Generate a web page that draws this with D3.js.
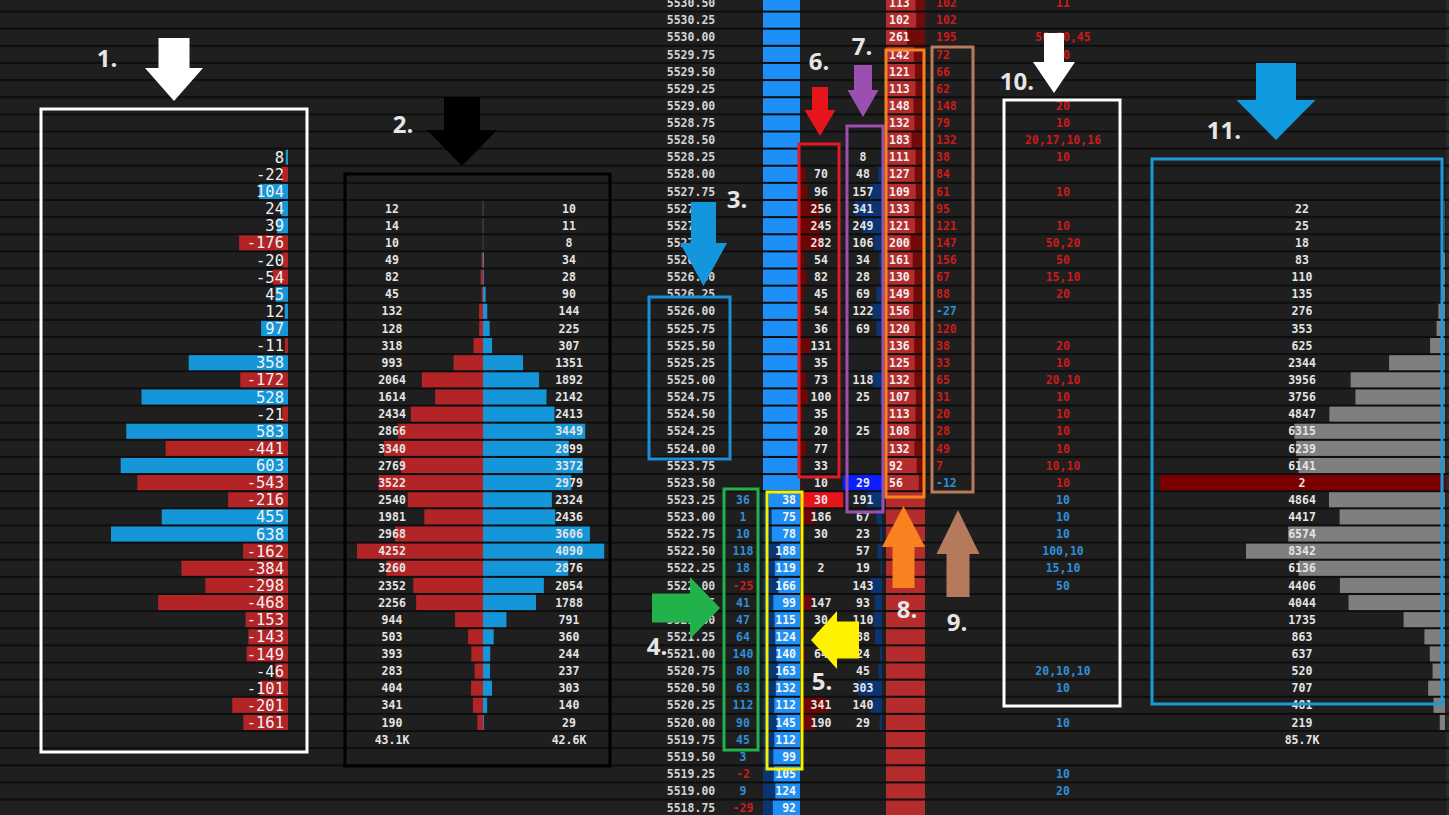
<!DOCTYPE html>
<meta charset="utf-8">
<style>
body { margin: 0; background: #1e1e1e; }
svg { display: block; }
.num { font-family: "DejaVu Sans Mono", monospace; font-size: 11.5px; font-weight: bold; }
.big { font-family: "DejaVu Sans Mono", monospace; font-size: 15.5px; }
.tag { font-family: "Open Sans", sans-serif; font-weight: bold; font-size: 24px; fill: #e6e6e6; }
</style>
<svg width="1449" height="815"></svg>
<script src="https://d3js.org/d3.v7.min.js"></script>
<script>

var svg = d3.select("svg"),
    width = +svg.attr("width"),
    height = +svg.attr("height");

// price ladder, top to bottom
var prices = ["5530.50","5530.25","5530.00","5529.75","5529.50","5529.25","5529.00","5528.75",
  "5528.50","5528.25","5528.00","5527.75","5527.50","5527.25","5527.00","5526.75","5526.50",
  "5526.25","5526.00","5525.75","5525.50","5525.25","5525.00","5524.75","5524.50","5524.25",
  "5524.00","5523.75","5523.50","5523.25","5523.00","5522.75","5522.50","5522.25","5522.00",
  "5521.75","5521.50","5521.25","5521.00","5520.75","5520.50","5520.25","5520.00","5519.75",
  "5519.50","5519.25","5519.00","5518.75"];

// 1. delta per price (from 5528.25 down)
var deltaStart = "5528.25";
var delta = [8,-22,104,24,39,-176,-20,-54,45,12,97,-11,358,-172,528,-21,583,-441,603,-543,
  -216,455,638,-162,-384,-298,-468,-153,-143,-149,-46,-101,-201,-161];

// 2. sell / buy volume profile (from 5527.50 down)
var volStart = "5527.50";
var sellVol = [12,14,10,49,82,45,132,128,318,993,2064,1614,2434,2866,3340,2769,3522,2540,1981,
  2968,4252,3260,2352,2256,944,503,393,283,404,341,190];
var buyVol = [10,11,8,34,28,90,144,225,307,1351,1892,2142,2413,3449,2899,3372,2979,2324,2436,
  3606,4090,2876,2054,1788,791,360,244,237,303,140,29];
var volTotals = ["43.1K", "42.6K"];

// 4. bid change, 5. bids (from 5523.25 down)
var bidStart = "5523.25";
var bidChange = [36,1,10,118,18,-25,41,47,64,140,80,63,112,90,45,3,-2,9,-29];
var bids = [38,75,78,188,119,166,99,115,124,140,163,132,112,145,112,99,105,124,92];

// 6. sells at bid (from 5528.00 down)
var sellStart = "5528.00";
var sellsAtBid = [70,96,256,245,282,54,82,45,54,36,131,35,73,100,35,20,77,33,10,30,186,30,
  null,2,null,147,30,45,64,null,null,341,190];

// 7. buys at ask (from 5528.25 down)
var buyStart = "5528.25";
var buysAtAsk = [8,48,157,341,249,106,34,28,69,122,69,null,null,118,25,null,25,null,null,29,
  191,67,23,57,19,143,93,110,88,24,45,303,140,29];

// 8. asks, 9. ask change (from 5530.50 down)
var asks = [113,102,261,142,121,113,148,132,183,111,127,109,133,121,200,161,130,149,156,120,
  136,125,132,107,113,108,132,92,56];
var askChange = [102,102,195,72,66,62,148,79,132,38,84,61,95,121,147,156,67,88,-27,120,38,33,
  65,31,20,28,49,7,-12];

// 10. large lots
var lots = [["5530.50","11"],["5530.00","50,20,45"],["5529.75","10"],["5529.00","20"],
  ["5528.75","10"],["5528.50","20,17,10,16"],["5528.25","10"],["5527.75","10"],["5527.25","10"],
  ["5527.00","50,20"],["5526.75","50"],["5526.50","15,10"],["5526.25","20"],["5525.50","20"],
  ["5525.25","10"],["5525.00","20,10"],["5524.75","10"],["5524.50","10"],["5524.25","10"],
  ["5524.00","10"],["5523.75","10,10"],["5523.50","10"],["5523.25","10"],["5523.00","10"],
  ["5522.75","10"],["5522.50","100,10"],["5522.25","15,10"],["5522.00","50"],
  ["5520.75","20,10,10"],["5520.50","10"],["5520.00","10"],["5519.25","10"],["5519.00","20"]];
var lotsSplit = "5523.50"; // at/above: sell side

// 11. session volume profile (from 5527.50 down)
var profileStart = "5527.50";
var profile = [22,25,18,83,110,135,276,353,625,2344,3956,3756,4847,6315,6239,6141,2,4864,4417,
  6574,8342,6136,4406,4044,1735,863,637,520,707,481,219];
var profileTotal = "85.7K";

var lastPrice = "5523.50";
var lastSell = "5523.25";

var rowH = 17.13, top0 = -5.57;
var y = d3.scaleBand().domain(prices).range([top0, top0 + rowH * prices.length]);
var yc = function(p) { return y(p) + y.bandwidth() / 2; };

function rows(start, values) {
  var i0 = prices.indexOf(start);
  return values.map(function(v, i) { return {p: prices[i0 + i], v: v}; })
    .filter(function(d) { return d.v != null; });
}
function nextRow(start, n) { return prices[prices.indexOf(start) + n]; }

var RED = "#b22426", BLUE = "#1596d9", TRED = "#cc1b1b", TBLUE = "#2f8fd6", TXT = "#e4e4e4";

var fills = svg.append("g"), grid = svg.append("g"), texts = svg.append("g"), notes = svg.append("g");

fills.append("rect").attr("width", width).attr("height", height).attr("fill", "#1f1f1f");

// ---- column 1: delta bars
var x1 = d3.scaleLinear().domain([0, 638]).range([0, 177]);
var c1 = rows(deltaStart, delta);
fills.selectAll(".d1").data(c1).enter().append("rect")
  .attr("x", function(d) { return 288 - x1(Math.abs(d.v)); })
  .attr("y", function(d) { return y(d.p); })
  .attr("width", function(d) { return x1(Math.abs(d.v)); })
  .attr("height", y.bandwidth())
  .attr("fill", function(d) { return d.v < 0 ? RED : BLUE; });
texts.selectAll(".t1").data(c1).enter().append("text").attr("class", "big")
  .attr("x", 284).attr("y", function(d) { return yc(d.p); })
  .attr("dy", "0.36em").attr("text-anchor", "end").attr("fill", "#f2f2f2")
  .text(function(d) { return d.v; });

// ---- column 2: sell / buy profile
var x2 = d3.scaleLinear().domain([0, 4252]).range([0, 126]);
var mid2 = 483;
var s2 = rows(volStart, sellVol), b2 = rows(volStart, buyVol);
fills.selectAll(".s2").data(s2).enter().append("rect")
  .attr("x", function(d) { return mid2 - x2(d.v); }).attr("y", function(d) { return y(d.p); })
  .attr("width", function(d) { return x2(d.v); }).attr("height", y.bandwidth()).attr("fill", RED);
fills.selectAll(".b2").data(b2).enter().append("rect")
  .attr("x", mid2).attr("y", function(d) { return y(d.p); })
  .attr("width", function(d) { return x2(d.v); }).attr("height", y.bandwidth()).attr("fill", BLUE);
texts.selectAll(".ts2").data(s2).enter().append("text").attr("class", "num")
  .attr("x", 392).attr("y", function(d) { return yc(d.p); }).attr("dy", "0.36em")
  .attr("text-anchor", "middle").attr("fill", TXT).text(function(d) { return d.v; });
texts.selectAll(".tb2").data(b2).enter().append("text").attr("class", "num")
  .attr("x", 569).attr("y", function(d) { return yc(d.p); }).attr("dy", "0.36em")
  .attr("text-anchor", "middle").attr("fill", TXT).text(function(d) { return d.v; });
var totRow = nextRow(volStart, sellVol.length);
texts.selectAll(".tt2").data(volTotals).enter().append("text").attr("class", "num")
  .attr("x", function(d, i) { return i ? 569 : 392; }).attr("y", yc(totRow)).attr("dy", "0.36em")
  .attr("text-anchor", "middle").attr("fill", TXT).text(function(d) { return d; });

// ---- price column
texts.selectAll(".px").data(prices).enter().append("text").attr("class", "num")
  .attr("x", 691).attr("y", function(d) { return yc(d); }).attr("dy", "0.36em")
  .attr("text-anchor", "middle").attr("fill", "#d4d4d4").text(function(d) { return d; });

// ---- column 4: bid change
var c4 = rows(bidStart, bidChange);
texts.selectAll(".t4").data(c4).enter().append("text").attr("class", "num")
  .attr("x", 743).attr("y", function(d) { return yc(d.p); }).attr("dy", "0.36em")
  .attr("text-anchor", "middle").attr("fill", function(d) { return d.v < 0 ? TRED : TBLUE; })
  .text(function(d) { return d.v; });

// ---- column 5: bids (blue ladder)
fills.selectAll(".bg5").data(prices).enter().append("rect")
  .attr("x", 763).attr("y", function(d) { return y(d); }).attr("width", 37)
  .attr("height", y.bandwidth()).attr("fill", "#1e8ff7");
var x5 = d3.scaleLinear().domain([0, 188]).range([3, 17]);
var c5 = rows(bidStart, bids);
fills.selectAll(".b5").data(c5).enter().append("rect")
  .attr("x", 763).attr("y", function(d) { return y(d.p); })
  .attr("width", function(d) { return x5(d.v); }).attr("height", y.bandwidth()).attr("fill", "#0b3472");
texts.selectAll(".t5").data(c5).enter().append("text").attr("class", "num")
  .attr("x", 796).attr("y", function(d) { return yc(d.p); }).attr("dy", "0.36em")
  .attr("text-anchor", "end").attr("fill", "#f4f4f4").text(function(d) { return d.v; });

// ---- column 6: sells at bid
var x6 = d3.scaleLinear().domain([0, 341]).range([0, 27]);
var c6 = rows(sellStart, sellsAtBid);
fills.selectAll(".b6").data(c6).enter().append("rect")
  .attr("x", 800).attr("y", function(d) { return y(d.p); })
  .attr("width", function(d) { return d.p === lastSell ? 43 : x6(d.v); })
  .attr("height", y.bandwidth())
  .attr("fill", function(d) { return d.p === lastSell ? "#e8141c" : "#6e0606"; });
texts.selectAll(".t6").data(c6).enter().append("text").attr("class", "num")
  .attr("x", 821).attr("y", function(d) { return yc(d.p); }).attr("dy", "0.36em")
  .attr("text-anchor", "middle").attr("fill", TXT).text(function(d) { return d.v; });

// ---- column 7: buys at ask
var x7 = d3.scaleLinear().domain([0, 341]).range([0, 27]);
var c7 = rows(buyStart, buysAtAsk);
fills.selectAll(".b7").data(c7).enter().append("rect")
  .attr("x", function(d) { return d.p === lastPrice ? 843 : 882 - x7(d.v); })
  .attr("y", function(d) { return y(d.p); })
  .attr("width", function(d) { return d.p === lastPrice ? 39 : x7(d.v); })
  .attr("height", y.bandwidth())
  .attr("fill", function(d) { return d.p === lastPrice ? "#0a1eff" : "#0b3472"; });
texts.selectAll(".t7").data(c7).enter().append("text").attr("class", "num")
  .attr("x", 863).attr("y", function(d) { return yc(d.p); }).attr("dy", "0.36em")
  .attr("text-anchor", "middle").attr("fill", TXT).text(function(d) { return d.v; });

// ---- column 8: asks (red ladder)
fills.selectAll(".bg8").data(prices).enter().append("rect")
  .attr("x", 886).attr("y", function(d) { return y(d); }).attr("width", 39)
  .attr("height", y.bandwidth()).attr("fill", "#b42c2c");
var x8 = d3.scaleLinear().domain([0, 261]).range([3, 18]);
var c8 = rows(prices[0], asks);
fills.selectAll(".b8").data(c8).enter().append("rect")
  .attr("x", function(d) { return 925 - x8(d.v); }).attr("y", function(d) { return y(d.p); })
  .attr("width", function(d) { return x8(d.v); }).attr("height", y.bandwidth()).attr("fill", "#730a0a");
texts.selectAll(".t8").data(c8).enter().append("text").attr("class", "num")
  .attr("x", 889).attr("y", function(d) { return yc(d.p); }).attr("dy", "0.36em")
  .attr("fill", "#f0f0f0").text(function(d) { return d.v; });

// ---- column 9: ask change
var c9 = rows(prices[0], askChange);
texts.selectAll(".t9").data(c9).enter().append("text").attr("class", "num")
  .attr("x", 936).attr("y", function(d) { return yc(d.p); }).attr("dy", "0.36em")
  .attr("fill", function(d) { return d.v < 0 ? TBLUE : TRED; }).text(function(d) { return d.v; });

// ---- column 10: large lots
var split = prices.indexOf(lotsSplit);
texts.selectAll(".t10").data(lots).enter().append("text").attr("class", "num")
  .attr("x", 1063).attr("y", function(d) { return yc(d[0]); }).attr("dy", "0.36em")
  .attr("text-anchor", "middle")
  .attr("fill", function(d) { return prices.indexOf(d[0]) <= split ? TRED : TBLUE; })
  .text(function(d) { return d[1]; });

// ---- column 11: volume profile
var x11 = d3.scaleLinear().domain([0, 8342]).range([0, 199]);
var c11 = rows(profileStart, profile);
fills.selectAll(".b11").data(c11).enter().append("rect")
  .attr("x", function(d) { return d.p === lastPrice ? 1160 : 1445 - x11(d.v); })
  .attr("y", function(d) { return y(d.p); })
  .attr("width", function(d) { return d.p === lastPrice ? 285 : x11(d.v); })
  .attr("height", y.bandwidth())
  .attr("fill", function(d) { return d.p === lastPrice ? "#7d0000" : "#7f7f7f"; });
texts.selectAll(".t11").data(c11).enter().append("text").attr("class", "num")
  .attr("x", 1302).attr("y", function(d) { return yc(d.p); }).attr("dy", "0.36em")
  .attr("text-anchor", "middle").attr("fill", TXT).text(function(d) { return d.v; });
texts.append("text").attr("class", "num").attr("x", 1302)
  .attr("y", yc(nextRow(profileStart, profile.length))).attr("dy", "0.36em")
  .attr("text-anchor", "middle").attr("fill", TXT).text(profileTotal);
fills.append("rect").attr("x", 1446).attr("y", 0).attr("width", 3).attr("height", height).attr("fill", "#2a2a2a");

// ---- row separators
grid.selectAll("rect").data(prices.concat(["end"])).enter().append("rect")
  .attr("x", 0).attr("width", width)
  .attr("y", function(d, i) { return top0 + i * rowH - 1; })
  .attr("height", 2).attr("fill", "#0e0e0e");

// ---- annotations
var boxes = [
  [41, 109, 266, 643, "#ffffff"], [345, 174, 265, 592, "#000000"], [649, 297, 81, 162, "#1a8fd8"],
  [724, 489, 34, 261, "#22b24c"], [767, 492, 35, 277, "#f5f000"], [799, 144, 40, 333, "#e01b24"],
  [847, 126, 36, 386, "#9b4fb0"], [886, 50, 38, 447, "#f58220"], [932, 47, 41, 445, "#b97b5c"],
  [1004, 100, 116, 606, "#ffffff"], [1152, 159, 290, 545, "#1a9ad8"]
];
notes.selectAll("rect").data(boxes).enter().append("rect")
  .attr("x", function(d) { return d[0]; }).attr("y", function(d) { return d[1]; })
  .attr("width", function(d) { return d[2]; }).attr("height", function(d) { return d[3]; })
  .attr("fill", "none").attr("stroke", function(d) { return d[4]; }).attr("stroke-width", 3);

// vertical arrows: cx, start, tip, shaft w, head w, head len, colour
var vArrows = [
  [174, 38, 101, 31, 58, 33, "#ffffff"], [462, 97, 166, 36, 70, 36, "#000000"],
  [703.5, 202, 286, 25, 47, 43, "#1496dc"], [820, 87, 136, 16, 31, 26, "#e8141c"],
  [863, 65, 117, 18, 31, 27, "#9b4fb0"], [1054, 33, 93, 20, 42, 31, "#ffffff"],
  [1276, 63, 140, 40, 79, 40, "#0f9ae0"], [903.5, 588, 506, 22, 43, 41, "#f7821f"],
  [958, 597, 510, 23, 43, 44, "#b57a5c"]
];
notes.selectAll(".va").data(vArrows).enter().append("polygon")
  .attr("points", function(d) {
    var cx = d[0], s = d[1], t = d[2], sw = d[3] / 2, hw = d[4] / 2, dir = t > s ? 1 : -1, hb = t - dir * d[5];
    return [[cx - sw, s], [cx + sw, s], [cx + sw, hb], [cx + hw, hb], [cx, t], [cx - hw, hb], [cx - sw, hb]].join(" ");
  })
  .attr("fill", function(d) { return d[6]; });

// horizontal arrows: cy, start, tip, shaft h, head h, head len, colour
var hArrows = [[608, 652, 720, 29, 62, 30, "#21b24b"], [640, 859, 811, 37, 58, 26, "#fff200"]];
notes.selectAll(".ha").data(hArrows).enter().append("polygon")
  .attr("points", function(d) {
    var cy = d[0], s = d[1], t = d[2], sh = d[3] / 2, hh = d[4] / 2, dir = t > s ? 1 : -1, hb = t - dir * d[5];
    return [[s, cy - sh], [hb, cy - sh], [hb, cy - hh], [t, cy], [hb, cy + hh], [hb, cy + sh], [s, cy + sh]].join(" ");
  })
  .attr("fill", function(d) { return d[6]; });

var tags = [["1.", 107, 58], ["2.", 403, 124], ["3.", 737, 199], ["4.", 657, 646], ["5.", 822, 681],
  ["6.", 819, 61], ["7.", 862, 46], ["8.", 907, 609], ["9.", 957, 622], ["10.", 1017, 81], ["11.", 1224, 130]];
notes.selectAll("text").data(tags).enter().append("text").attr("class", "tag")
  .attr("x", function(d) { return d[1]; }).attr("y", function(d) { return d[2]; })
  .attr("dy", "0.36em").attr("text-anchor", "middle").text(function(d) { return d[0]; });

</script>
